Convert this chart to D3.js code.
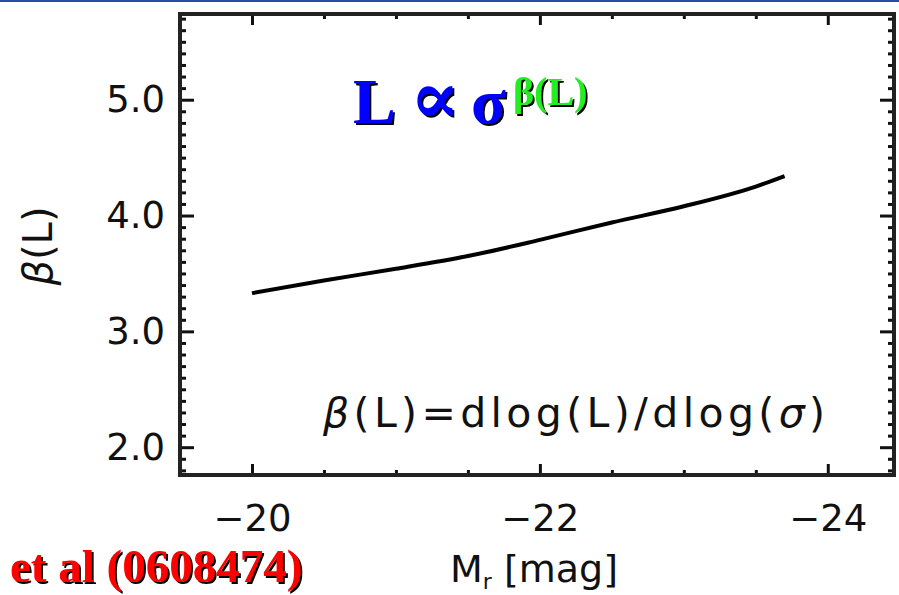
<!DOCTYPE html>
<html>
<head>
<meta charset="utf-8">
<script src="https://cdn.jsdelivr.net/npm/d3@7"></script>
<style>
  body { margin: 0; background: #fff; }
  svg { display: block; }
</style>
</head>
<body>
<div id="vis"></div>
<script>
// data
var magR = [-20, -20.5, -21, -21.5, -22, -22.5, -23, -23.5, -23.7];
var betaL = [3.33, 3.44, 3.54, 3.65, 3.79, 3.94, 4.08, 4.25, 4.34];
var xMajor = [-20, -22, -24];
var xMinor = [-20.5, -21, -21.5, -22.5, -23, -23.5];
var yMajor = [2.0, 3.0, 4.0, 5.0];
var yMinor = [1.8, 1.9, 2.1, 2.2, 2.3, 2.4, 2.5, 2.6, 2.7, 2.8, 2.9,
              3.1, 3.2, 3.3, 3.4, 3.5, 3.6, 3.7, 3.8, 3.9,
              4.1, 4.2, 4.3, 4.4, 4.5, 4.6, 4.7, 4.8, 4.9,
              5.1, 5.2, 5.3, 5.4, 5.5, 5.6, 5.7];

function init()
{
  var W = 899, H = 595;
  var left = 180, right = 894, top = 14, bottom = 475;

  var svg = d3.select("#vis")
    .append("svg")
    .attr("width", W)
    .attr("height", H);

  // hard black drop shadow for the slide texts
  svg.append("defs").append("filter")
    .attr("id", "shadow")
    .attr("x", "-5%").attr("y", "-10%")
    .attr("width", "115%").attr("height", "130%")
    .append("feDropShadow")
    .attr("dx", 2).attr("dy", 2)
    .attr("stdDeviation", 0)
    .attr("flood-color", "#000")
    .attr("flood-opacity", 1);

  // thin blue rule at the very top
  svg.append("rect")
    .attr("x", 0).attr("y", 0)
    .attr("width", W).attr("height", 2)
    .style("fill", "#2a4aa8");

  var xScale = d3.scaleLinear().domain([-19.5, -24.46]).range([left, right]);
  var yScale = d3.scaleLinear().domain([1.76, 5.74]).range([bottom, top]);

  var tickFont = "DejaVu Sans, sans-serif";

  function styleAxis(g) {
    g.select(".domain").remove();
    g.selectAll("line").style("stroke", "#111").style("stroke-width", 3);
    g.selectAll("text")
      .style("font-family", tickFont)
      .style("font-size", "37px")
      .style("fill", "#111");
  }

  // bottom axis
  svg.append("g")
    .attr("transform", "translate(0," + bottom + ")")
    .call(d3.axisBottom(xScale).tickValues(xMinor).tickSize(-5).tickFormat(""))
    .call(styleAxis);
  svg.append("g")
    .attr("transform", "translate(0," + bottom + ")")
    .call(d3.axisBottom(xScale).tickValues(xMajor).tickSizeInner(-11).tickSizeOuter(0)
      .tickPadding(30).tickFormat(function(d) { return "\u2212" + Math.abs(d); }))
    .call(styleAxis);

  // top axis
  svg.append("g")
    .attr("transform", "translate(0," + top + ")")
    .call(d3.axisTop(xScale).tickValues(xMinor).tickSize(-5).tickFormat(""))
    .call(styleAxis);
  svg.append("g")
    .attr("transform", "translate(0," + top + ")")
    .call(d3.axisTop(xScale).tickValues(xMajor).tickSize(-11).tickFormat(""))
    .call(styleAxis);

  // left axis
  svg.append("g")
    .attr("transform", "translate(" + left + ",0)")
    .call(d3.axisLeft(yScale).tickValues(yMinor).tickSize(-6).tickFormat(""))
    .call(styleAxis);
  svg.append("g")
    .attr("transform", "translate(" + left + ",0)")
    .call(d3.axisLeft(yScale).tickValues(yMajor).tickSizeInner(-14).tickSizeOuter(0)
      .tickPadding(15).tickFormat(d3.format(".1f")))
    .call(styleAxis);

  // right axis
  svg.append("g")
    .attr("transform", "translate(" + right + ",0)")
    .call(d3.axisRight(yScale).tickValues(yMinor).tickSize(-6).tickFormat(""))
    .call(styleAxis);
  svg.append("g")
    .attr("transform", "translate(" + right + ",0)")
    .call(d3.axisRight(yScale).tickValues(yMajor).tickSize(-14).tickFormat(""))
    .call(styleAxis);

  // frame
  svg.append("rect")
    .attr("x", left).attr("y", top)
    .attr("width", right - left).attr("height", bottom - top)
    .style("fill", "none")
    .style("stroke", "#222")
    .style("stroke-width", 4);

  // curve
  var pts = magR.map(function(m, i) { return [m, betaL[i]]; });
  var line = d3.line()
    .x(function(d) { return xScale(d[0]); })
    .y(function(d) { return yScale(d[1]); })
    .curve(d3.curveMonotoneX);

  svg.append("path")
    .datum(pts)
    .attr("d", line)
    .style("fill", "none")
    .style("stroke", "#000")
    .style("stroke-width", 4);

  // axis titles
  var xt = svg.append("text")
    .attr("x", 450).attr("y", 582)
    .style("font-family", tickFont)
    .style("font-size", "38px")
    .style("fill", "#111");
  xt.append("tspan").text("M");
  xt.append("tspan").attr("dy", 7).style("font-size", "22px").text("r");
  xt.append("tspan").attr("dy", -7).text(" [mag]");

  var yt = svg.append("text")
    .attr("transform", "translate(52,246) rotate(-90)")
    .style("font-family", tickFont)
    .style("font-size", "40px")
    .style("text-anchor", "middle")
    .style("fill", "#111");
  yt.append("tspan").style("font-style", "italic").text("\u03b2");
  yt.append("tspan").text("(L)");

  // formula inside the plot
  var ft = svg.append("text")
    .attr("x", 323).attr("y", 427)
    .attr("textLength", 502)
    .attr("lengthAdjust", "spacing")
    .style("font-family", tickFont)
    .style("font-size", "41px")
    .style("fill", "#111");
  ft.append("tspan").style("font-style", "italic").text("\u03b2");
  ft.append("tspan").text("(L)=dlog(L)/dlog(");
  ft.append("tspan").style("font-style", "italic").text("\u03c3");
  ft.append("tspan").text(")");

  // big proportionality title
  var t = svg.append("text")
    .attr("y", 123)
    .attr("filter", "url(#shadow)")
    .style("font-family", "Liberation Serif, Times New Roman, serif")
    .style("font-weight", "bold")
    .style("font-size", "64px")
    .style("fill", "#0000ff");
  t.append("tspan").attr("x", 353).text("L");
  t.append("tspan").attr("x", 410)
    .style("font-family", "DejaVu Serif, serif").style("font-size", "74px").text("\u221d");
  t.append("tspan").attr("x", 471).text("\u03c3");
  t.append("tspan").attr("x", 513).attr("dy", -18)
    .style("font-size", "40px").style("fill", "#22ee22").text("\u03b2(L)");

  // red reference at bottom-left
  svg.append("text")
    .attr("x", 10).attr("y", 582)
    .attr("filter", "url(#shadow)")
    .style("font-family", "Liberation Serif, Times New Roman, serif")
    .style("font-weight", "bold")
    .style("font-size", "47px")
    .style("fill", "#ff0000")
    .text("et al (0608474)");
}

window.onload = init;
</script>
</body>
</html>
